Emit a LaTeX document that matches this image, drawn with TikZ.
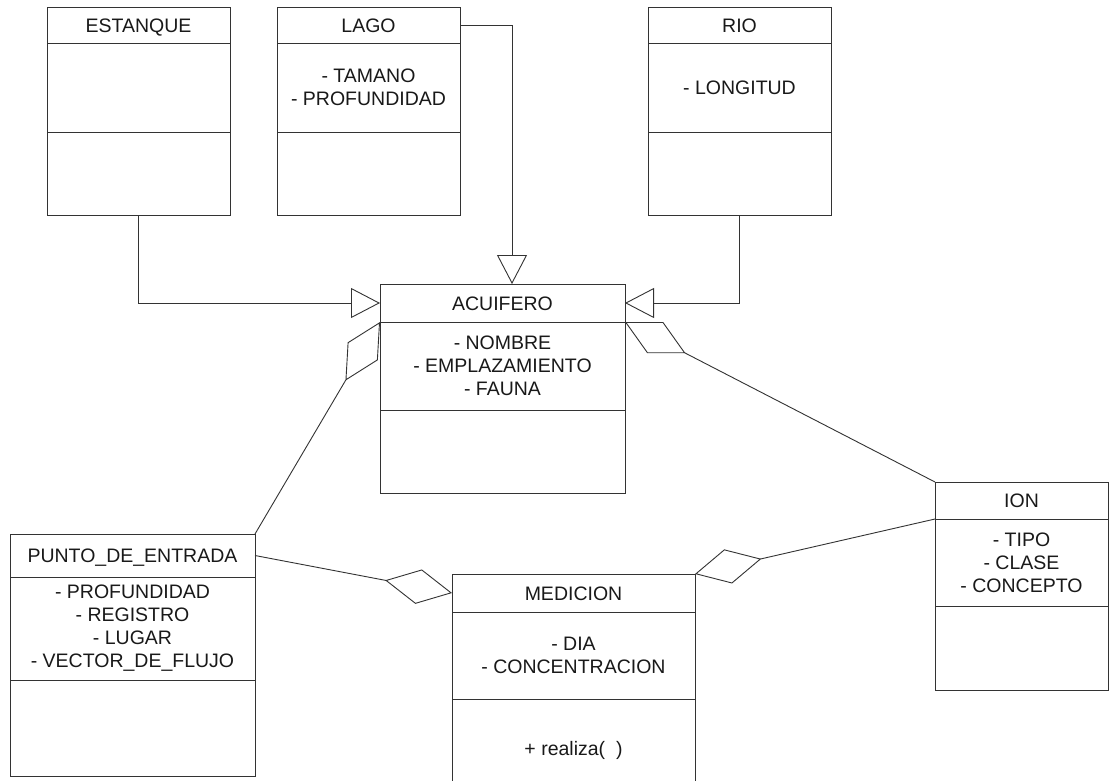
\documentclass[tikz,border=0pt]{standalone}
\usepackage{fontspec}
\setmainfont{Liberation Sans}
\usetikzlibrary{positioning,arrows.meta}

\begin{document}
\begin{tikzpicture}[x=1pt,y=-1pt,
  box/.style={draw=black!80,line width=0.9pt,inner sep=0pt,outer sep=0pt,
    align=center,font=\fontsize{19.5}{23}\selectfont,text=black!90},
  part/.style n args={2}{box,minimum width=#1,minimum height=#2},
  head/.style n args={2}{part={#1}{#2},text height=14pt,text depth=0pt},
  gen/.style={draw=black!80,line width=0.9pt,-{Triangle[open,length=29pt,width=30pt]}},
  agg/.style={draw=black!80,line width=0.9pt,{Diamond[open,length=68pt,width=35pt]}-}]
% Page
\clip (0,0) rectangle (1111,780);
\fill[white] (0,0) rectangle (1111,780);

% Upper classes
\node[head={183pt}{36pt},anchor=north west] (est) at (47,7) {ESTANQUE};
\node[part={183pt}{89pt},below=0pt of est] (est-a) {};
\node[part={183pt}{83pt},below=0pt of est-a] (est-o) {};

\node[head={183pt}{36pt},anchor=north west] (lago) at (277,7) {LAGO};
\node[part={183pt}{89pt},below=0pt of lago] (lago-a) {- TAMANO\\- PROFUNDIDAD};
\node[part={183pt}{83pt},below=0pt of lago-a] (lago-o) {};

\node[head={183pt}{36pt},anchor=north west] (rio) at (648,7) {RIO};
\node[part={183pt}{89pt},below=0pt of rio] (rio-a) {- LONGITUD};
\node[part={183pt}{83pt},below=0pt of rio-a] (rio-o) {};

% Acuifero
\node[head={245pt}{38pt},anchor=north west] (acu) at (380,284) {ACUIFERO};
\node[part={245pt}{88pt},below=0pt of acu] (acu-a) {- NOMBRE\\- EMPLAZAMIENTO\\- FAUNA};
\node[part={245pt}{83pt},below=0pt of acu-a] (acu-o) {};
\coordinate (acu-in) at ([xshift=9.5pt]acu.north);

% Lower classes
\node[head={245pt}{43pt},anchor=north west] (pun) at (10,534) {PUNTO\_DE\_ENTRADA};
\node[part={245pt}{103pt},below=0pt of pun] (pun-a) {- PROFUNDIDAD\\- REGISTRO\\- LUGAR\\- VECTOR\_DE\_FLUJO};
\node[part={245pt}{96pt},below=0pt of pun-a] (pun-o) {};

\node[head={243pt}{38pt},anchor=north west] (med) at (452,574) {MEDICION};
\node[part={243pt}{87pt},below=0pt of med] (med-a) {- DIA\\- CONCENTRACION};
\node[part={243pt}{102pt},below=0pt of med-a] (med-o) {+ realiza(\ \ )};

\node[head={173pt}{37pt},anchor=north west] (ion) at (935,482) {ION};
\node[part={173pt}{87pt},below=0pt of ion] (ion-a) {- TIPO\\- CLASE\\- CONCEPTO};
\node[part={173pt}{84pt},below=0pt of ion-a] (ion-o) {};

% Generalization
\draw[gen] (est-o.south) |- (acu.west);
\draw[gen] (lago.east) -| (acu-in);
\draw[gen] (rio-o.south) |- (acu.east);

% Aggregation
\draw[agg] (acu.south east) -- (ion.north west);
\draw[agg] (acu.south west) -- (pun.north east);
\draw[agg] (med.west) -- (pun.east);
\draw[agg] (med.north east) -- (ion-a.north west);
\end{tikzpicture}
\end{document}
